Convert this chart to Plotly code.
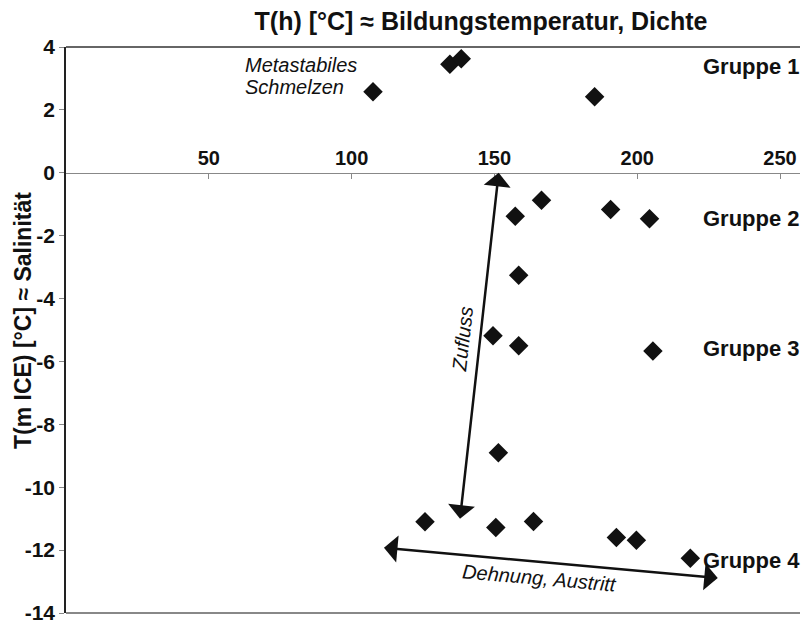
import plotly.graph_objects as go

# Data: T(h) [°C] (x) vs T(m ICE) [°C] (y)
th_group1 = [107.5, 134.4, 138.4, 185.1]
tm_group1 = [2.58, 3.45, 3.63, 2.42]
th_group2 = [157.3, 166.5, 190.7, 204.3, 158.5]
tm_group2 = [-1.38, -0.87, -1.17, -1.46, -3.26]
th_group3 = [149.5, 158.5, 205.5]
tm_group3 = [-5.18, -5.50, -5.67]
th_group4 = [151.4, 125.7, 150.5, 163.7, 192.7, 199.7, 218.6]
tm_group4 = [-8.90, -11.10, -11.28, -11.09, -11.60, -11.69, -12.26]

x_ticks = [50, 100, 150, 200, 250]
y_ticks = [4, 2, 0, -2, -4, -6, -8, -10, -12, -14]

group_labels = ["Gruppe 1", "Gruppe 2", "Gruppe 3", "Gruppe 4"]
group_label_y = [3.37, -1.45, -5.59, -12.32]

# arrows (start -> end) in data coordinates
zufluss_arrow = [(137.9, -11.05), (151.5, 0.0)]
dehnung_arrow = [(110.8, -11.92), (228.2, -12.89)]

FONT = "Liberation Sans, Arial, sans-serif"
INK = "#111111"

xs = th_group1 + th_group2 + th_group3 + th_group4
ys = tm_group1 + tm_group2 + tm_group3 + tm_group4

fig = go.Figure()
fig.add_trace(go.Scatter(
    x=xs, y=ys, mode="markers",
    marker=dict(symbol="diamond", size=15, color=INK, line=dict(width=0)),
    showlegend=False, hoverinfo="skip",
))

annotations = []
for lab, yy in zip(group_labels, group_label_y):
    annotations.append(dict(
        text="<b>%s</b>" % lab, xref="paper", x=1.003, xanchor="right",
        yref="y", y=yy, yanchor="middle", showarrow=False,
        font=dict(family=FONT, size=22, color=INK)))

annotations.append(dict(text="<i>Metastabiles</i>", xref="x", x=61.9, xanchor="left",
                        yref="y", y=3.43, yanchor="middle", showarrow=False,
                        font=dict(family=FONT, size=20, color=INK)))
annotations.append(dict(text="<i>Schmelzen</i>", xref="x", x=61.9, xanchor="left",
                        yref="y", y=2.73, yanchor="middle", showarrow=False,
                        font=dict(family=FONT, size=20, color=INK)))
annotations.append(dict(text="<i>Zufluss</i>", xref="x", x=138.9, yref="y", y=-5.29,
                        textangle=-83.5, showarrow=False,
                        font=dict(family=FONT, size=20, color=INK)))
annotations.append(dict(text="<i>Dehnung, Austritt</i>", xref="x", x=165.9, yref="y", y=-12.89,
                        textangle=5, showarrow=False,
                        font=dict(family=FONT, size=20, color=INK)))

for (x0, y0), (x1, y1) in [zufluss_arrow, dehnung_arrow]:
    annotations.append(dict(
        x=x1, y=y1, ax=x0, ay=y0, xref="x", yref="y", axref="x", ayref="y",
        text="", showarrow=True, arrowhead=1, startarrowhead=1, arrowside="end+start",
        arrowsize=1.8, startarrowsize=1.8, arrowwidth=2.5, arrowcolor=INK,
        standoff=0, startstandoff=0))

annotations.append(dict(
    text="<b>T(m ICE) [°C] ≈ Salinität</b>", xref="paper", x=-0.0586, yref="paper", y=0.5176,
    textangle=-90, showarrow=False, xanchor="center", yanchor="middle",
    font=dict(family=FONT, size=23, color=INK)))

fig.update_layout(
    width=803, height=627,
    margin=dict(l=66, r=3, t=47, b=12, pad=0),
    paper_bgcolor="white", plot_bgcolor="white",
    title=dict(text="<b>T(h) [°C] ≈ Bildungstemperatur, Dichte</b>",
               xref="container", x=481 / 803, xanchor="center",
               yref="container", y=1 - 21 / 627, yanchor="middle",
               font=dict(family=FONT, size=25, color=INK)),
    xaxis=dict(range=[0, 257], anchor="free", position=14 / 18, side="top",
               tickvals=x_ticks, ticktext=["<b>%d</b>" % v for v in x_ticks],
               ticks="inside", ticklen=5, tickcolor="#888888", tickwidth=1,
               showline=True, linecolor="#888888", linewidth=1.2,
               showgrid=False, zeroline=False,
               tickfont=dict(family=FONT, size=20, color=INK)),
    yaxis=dict(range=[-14, 4], tickvals=y_ticks, ticktext=["<b>%d</b>" % v for v in y_ticks],
               ticks="outside", ticklen=5, tickcolor="#888888", tickwidth=1,
               showline=True, linecolor="#222222", linewidth=1.5,
               showgrid=False, zeroline=False,
               tickfont=dict(family=FONT, size=21, color=INK)),
    annotations=annotations,
    shapes=[
        dict(type="line", xref="paper", yref="paper", x0=0, x1=1, y0=1, y1=1,
             line=dict(color="#333333", width=1.5)),
        dict(type="line", xref="paper", yref="paper", x0=0, x1=1, y0=0, y1=0,
             line=dict(color="#888888", width=2)),
    ],
)

fig.write_html("out.html")
